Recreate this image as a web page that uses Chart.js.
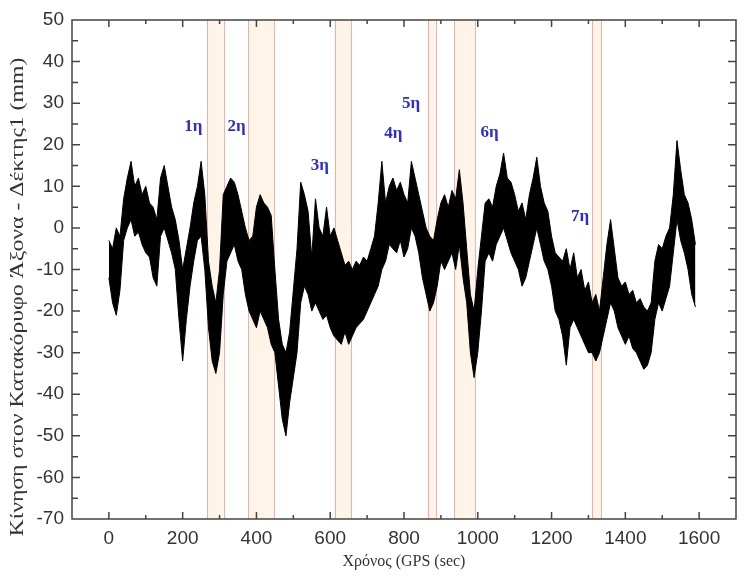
<!DOCTYPE html>
<html>
<head>
<meta charset="utf-8">
<script src="https://cdn.jsdelivr.net/npm/chart.js@4/dist/chart.umd.min.js"></script>
<style>
  html, body { margin: 0; padding: 0; background: #fff; overflow: hidden; }
  canvas { display: block; }
</style>
</head>
<body>
<canvas id="gpsChart" width="744" height="577"></canvas>
<script>
// χρόνος GPS (sec), ανά 10 sec
const timeSec = [
  0, 10, 20, 30, 40, 50, 60, 70, 80, 90, 100, 110, 120, 130, 140, 150, 160, 170, 180, 190,
  200, 210, 220, 230, 240, 250, 260, 270, 280, 290, 300, 310, 320, 330, 340, 350, 360, 370, 380, 390,
  400, 410, 420, 430, 440, 450, 460, 470, 480, 490, 500, 510, 520, 530, 540, 550, 560, 570, 580, 590,
  600, 610, 620, 630, 640, 650, 660, 670, 680, 690, 700, 710, 720, 730, 740, 750, 760, 770, 780, 790,
  800, 810, 820, 830, 840, 850, 860, 870, 880, 890, 900, 910, 920, 930, 940, 950, 960, 970, 980, 990,
  1000, 1010, 1020, 1030, 1040, 1050, 1060, 1070, 1080, 1090, 1100, 1110, 1120, 1130, 1140, 1150, 1160, 1170, 1180, 1190,
  1200, 1210, 1220, 1230, 1240, 1250, 1260, 1270, 1280, 1290, 1300, 1310, 1320, 1330, 1340, 1350, 1360, 1370, 1380, 1390,
  1400, 1410, 1420, 1430, 1440, 1450, 1460, 1470, 1480, 1490, 1500, 1510, 1520, 1530, 1540, 1550, 1560, 1570, 1580, 1590
];

// πάνω όριο της ταλάντωσης (mm)
const upperMm = [
  -3, -5, 0, -2, 7, 12, 16, 10, 12, 8, 10, 6, 5, 2, 12, 15, 10, 5, 2, -3,
  -10, -5, 0, 6, 10, 16, 8, -8, -14, -18, -10, 8, 10, 12, 11, 8, 4, 0, -3, -2,
  5, 8, 6, 5, 3, -10, -22, -28, -30, -25, -15, -5, 11, 8, 4, -7, 7, 0, -2, 5,
  -2, 0, -3, -6, -9, -8, -10, -8, -9, -7, -8, -5, -2, 6, 16, 6, 10, 12, 9, 11,
  8, 6, 16, 12, 8, 4, 0, -2, -3, 2, 6, 8, 5, 9, 7, 14, 6, -5, -16, -20,
  -10, -2, 6, 7, 5, 10, 13, 18, 12, 11, 8, 4, 6, 2, 8, 12, 17, 10, 6, 4,
  -2, -6, -7, -8, -5, -10, -6, -12, -10, -15, -13, -18, -16, -20, -12, -4, 2, -5, -12, -14,
  -13, -16, -15, -18, -17, -19, -20, -18, -8, -4, -5, -2, 0, 8, 21, 14, 8, 6, 2, -4
];

// κάτω όριο της ταλάντωσης (mm)
const lowerMm = [
  -12, -18, -21, -15, -3, 0, 2, -2, -1, -4, -6, -7, -12, -14, -2, 0, -3, -6, -10, -22,
  -32, -22, -14, -8, -3, -2, -10, -24, -32, -35, -30, -16, -8, -6, -4, -8, -10, -16, -20, -22,
  -24, -20, -22, -24, -28, -30, -38, -46, -50, -42, -36, -30, -18, -14, -16, -20, -18, -20, -22, -21,
  -24, -26, -27, -28, -25, -28, -26, -24, -23, -22, -20, -18, -16, -14, -10, -8, -4, -5, -6, -3,
  -7, -5, 0, -2, -6, -12, -16, -20, -18, -14, -8, -10, -8, -6, -10, -4, -12, -18, -30, -36,
  -30, -20, -8, -6, -8, -4, -2, 0, -3, -6, -8, -10, -14, -12, -8, -4, 0, -4, -8, -10,
  -14, -20, -22, -26, -33, -24, -22, -24, -26, -28, -30, -30, -32, -30, -26, -22, -18, -20, -24, -26,
  -28, -26, -29, -30, -32, -34, -33, -30, -22, -18, -20, -17, -14, -6, 2, -3, -6, -10, -16, -19
];

// σημειωμένα διαστήματα (sec)
const bandStart = [266, 378, 612, 864, 936, 1309];
const bandEnd = [311, 447, 657, 886, 992, 1335];

// ετικέτες γεγονότων
const eventLabels = ['1η', '2η', '3η', '4η', '5η', '6η', '7η'];
const eventX = [229, 346, 572, 771, 819, 1032, 1277];
const eventY = [24.3, 24.3, 15.1, 22.6, 30, 22.8, 2.7];

const xTitle = 'Χρόνος (GPS (sec)';
const yTitle = 'Κίνηση στον Κατακόρυφο Άξονα - Δέκτης1 (mm)';

const framePlugin = {
  id: 'frame',
  beforeDatasetsDraw(chart) {
    const { ctx, chartArea: a, scales: { x } } = chart;
    ctx.save();
    for (let i = 0; i < bandStart.length; i++) {
      const x0 = x.getPixelForValue(bandStart[i]);
      const x1 = x.getPixelForValue(bandEnd[i]);
      ctx.fillStyle = 'rgba(255, 228, 196, 0.4)';
      ctx.fillRect(x0, a.top, x1 - x0, a.bottom - a.top);
      ctx.strokeStyle = 'rgba(225, 130, 120, 0.6)';
      ctx.lineWidth = 1;
      [x0, x1].forEach(px => {
        ctx.beginPath();
        ctx.moveTo(Math.round(px) + 0.5, a.top);
        ctx.lineTo(Math.round(px) + 0.5, a.bottom);
        ctx.stroke();
      });
    }
    ctx.restore();
  },
  afterDatasetsDraw(chart) {
    const { ctx, chartArea: a, scales: { x, y } } = chart;
    ctx.save();
    ctx.strokeStyle = '#444';
    ctx.lineWidth = 1.5;
    ctx.strokeRect(a.left, a.top, a.right - a.left, a.bottom - a.top);

    // ticks pointing inwards, on all four sides
    x.ticks.forEach(t => {
      if (t.value <= x.min || t.value >= x.max) return;
      const px = x.getPixelForValue(t.value);
      const len = t.value % 200 === 0 ? 7 : 4;
      ctx.beginPath();
      ctx.moveTo(px, a.bottom); ctx.lineTo(px, a.bottom - len);
      ctx.moveTo(px, a.top); ctx.lineTo(px, a.top + len);
      ctx.stroke();
    });
    y.ticks.forEach(t => {
      if (t.value <= y.min || t.value >= y.max) return;
      const py = y.getPixelForValue(t.value);
      const len = t.value % 10 === 0 ? 8 : 6;
      ctx.beginPath();
      ctx.moveTo(a.left, py); ctx.lineTo(a.left + len, py);
      ctx.moveTo(a.right, py); ctx.lineTo(a.right - len, py);
      ctx.stroke();
    });

    // y title, a bit stretched like the original
    ctx.save();
    ctx.translate(18, 297);
    ctx.rotate(-Math.PI / 2);
    ctx.scale(1.25, 1);
    ctx.font = '19px "Liberation Serif"';
    ctx.fillStyle = '#333';
    ctx.textAlign = 'center';
    ctx.textBaseline = 'middle';
    ctx.fillText(yTitle, 0, 0);
    ctx.restore();

    ctx.font = 'bold 17px "Liberation Serif"';
    ctx.fillStyle = '#2b2bd8';
    ctx.textAlign = 'center';
    ctx.textBaseline = 'middle';
    eventLabels.forEach((txt, i) => {
      ctx.fillText(txt, x.getPixelForValue(eventX[i]), y.getPixelForValue(eventY[i]));
    });
    ctx.restore();
  }
};

const ctx = document.getElementById('gpsChart').getContext('2d');

new Chart(ctx, {
  type: 'line',
  data: {
    datasets: [
      {
        label: 'κάτω',
        data: timeSec.map((t, i) => ({ x: t, y: lowerMm[i] })),
        borderColor: '#000',
        borderWidth: 1,
        pointRadius: 0,
        fill: false
      },
      {
        label: 'πάνω',
        data: timeSec.map((t, i) => ({ x: t, y: upperMm[i] })),
        borderColor: '#000',
        borderWidth: 1,
        pointRadius: 0,
        backgroundColor: '#000',
        fill: '-1'
      }
    ]
  },
  options: {
    responsive: false,
    animation: false,
    // the right frame of the original lies just outside the picture
    layout: { padding: { top: 20, right: -5, left: 0, bottom: 0 } },
    plugins: {
      legend: { display: false },
      tooltip: { enabled: false }
    },
    scales: {
      x: {
        type: 'linear',
        min: -100,
        max: 1700,
        afterFit: s => { s.height = 58; },
        grid: { display: false, drawTicks: false },
        border: { display: false },
        ticks: {
          stepSize: 100,
          autoSkip: false,
          maxRotation: 0,
          padding: 8,
          color: '#333',
          font: { family: '"Liberation Sans"', size: 19 },
          callback: v => (v >= 0 && v <= 1600 && v % 200 === 0) ? v : ''
        },
        title: {
          display: true,
          text: xTitle,
          color: '#333',
          font: { family: '"Liberation Serif"', size: 16 },
          padding: { top: 0, bottom: 6 }
        }
      },
      y: {
        min: -70,
        max: 50,
        afterFit: s => { s.width = 72; },
        grid: { display: false, drawTicks: false },
        border: { display: false },
        ticks: {
          stepSize: 5,
          autoSkip: false,
          padding: 8,
          color: '#333',
          font: { family: '"Liberation Sans"', size: 19 },
          callback: v => v % 10 === 0 ? v : ''
        }
      }
    }
  },
  plugins: [framePlugin]
});
</script>
</body>
</html>
